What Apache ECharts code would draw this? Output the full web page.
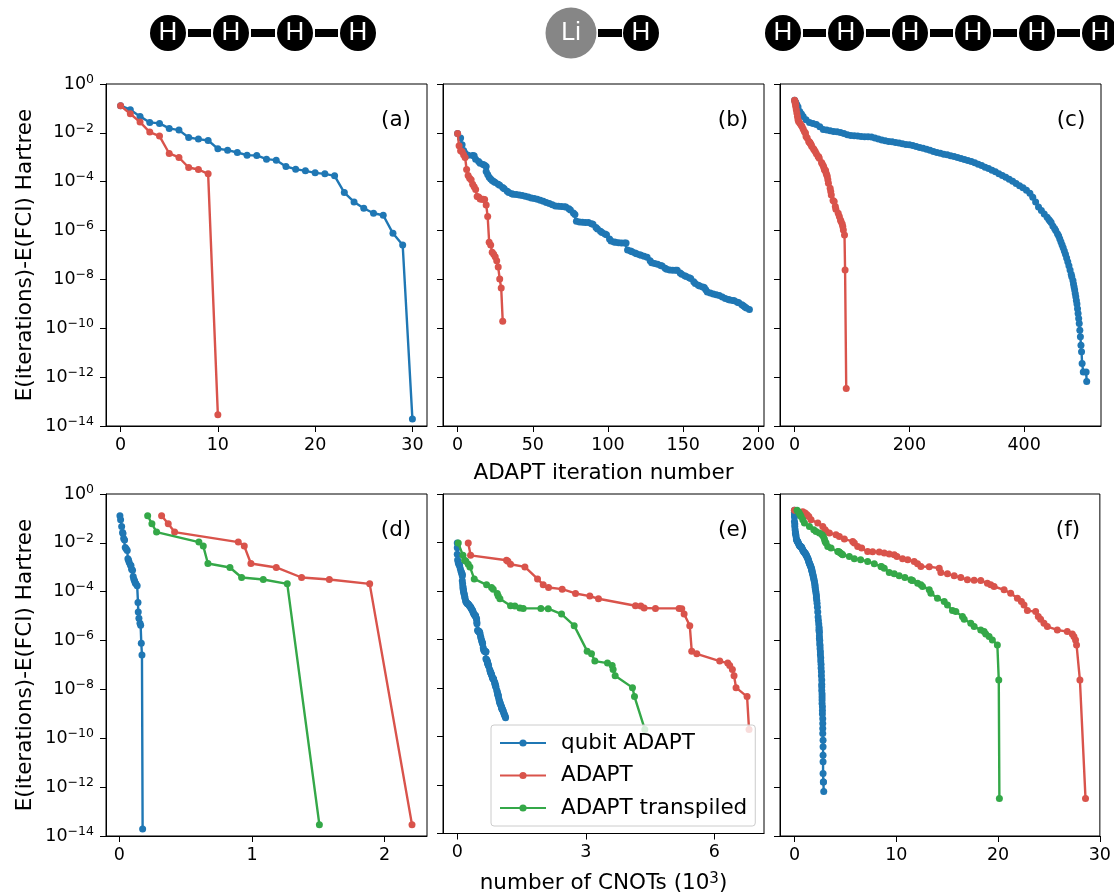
<!DOCTYPE html>
<html><head><meta charset="utf-8">
<style>html,body{margin:0;padding:0;background:#fff}#c{width:1114px;height:895px}</style>
<script src="https://cdn.jsdelivr.net/npm/echarts@6/dist/echarts.min.js"></script>
</head><body><div id="c"></div>
<script>
// ---- Data: energies are log10(E - E_FCI) in Hartree, CNOT counts in thousands ----
// H4
const h4QubitIter=[0,1,2,3,4,5,6,7,8,9,10,11,12,13,14,15,16,17,18,19,20,21,22,23,24,25,26,27,28,29,30];
const h4QubitLog=[-0.889,-1.053,-1.326,-1.572,-1.613,-1.818,-1.887,-2.188,-2.256,-2.311,-2.652,-2.707,-2.803,-2.912,-2.926,-3.076,-3.117,-3.377,-3.486,-3.555,-3.637,-3.678,-3.76,-4.444,-4.826,-5.086,-5.291,-5.373,-6.112,-6.59,-13.714];
const h4QubitCnot=[0.005,0.01,0.018,0.025,0.028,0.033,0.04,0.045,0.053,0.06,0.065,0.07,0.075,0.085,0.088,0.093,0.1,0.105,0.11,0.115,0.12,0.125,0.135,0.141,0.143,0.148,0.156,0.161,0.166,0.171,0.176];
const h4AdaptIter=[0,1,2,3,4,5,6,7,8,9,10];
const h4AdaptLog=[-0.889,-1.217,-1.559,-1.969,-2.133,-2.844,-3.008,-3.418,-3.5,-3.678,-13.536];
const h4AdaptCnot=[0.319,0.369,0.417,0.897,0.942,0.992,1.183,1.374,1.583,1.887,2.206];
const h4TransCnot=[0.214,0.246,0.281,0.6,0.633,0.668,0.834,0.922,1.085,1.266,1.508];
// LiH
const lihQubitIter=[0,2,3,4,5,7,10,11,12,14,15,17,18,19,
 19,20,21,22,23,24,25,27,28,30,
 31,33,34,36,37,39,41,43,45,47,
 49,51,53,55,57,59,61,63,65,67,
 69,71,72,74,75,77,78,79,81,83,
 85,87,89,90,92,93,95,96,98,99,
 101,102,104,105,107,109,111,112,113,115,
 116,118,119,121,122,124,126,128,129,131,
 133,135,136,138,139,141,143,145,146,148,
 149,151,152,154,155,157,158,160,161,163,
 164,165,166,168,170,172,174,176,178,180,
 181,183,184,186,187,189,190,191,192,194];
const lihQubitLog=[-2.024,-2.215,-2.488,-2.721,-2.83,-2.912,-2.926,-2.94,-3.076,-3.172,-3.24,-3.295,-3.322,-3.377,
 -3.582,-3.70,-3.815,-3.89,-3.951,-3.99,-4.033,-4.10,-4.143,-4.24,
 -4.293,-4.39,-4.444,-4.49,-4.512,-4.525,-4.539,-4.565,-4.594,-4.63,
 -4.662,-4.69,-4.717,-4.76,-4.799,-4.85,-4.895,-4.945,-4.99,-5.005,
 -5.018,-5.025,-5.031,-5.11,-5.155,-5.28,-5.346,-5.619,-5.645,-5.66,
 -5.668,-5.674,-5.72,-5.742,-5.87,-5.934,-6.03,-6.084,-6.14,-6.166,
 -6.34,-6.426,-6.465,-6.481,-6.495,-6.508,-6.508,-6.508,-6.795,-6.84,
 -6.864,-6.92,-6.946,-6.99,-7.014,-7.055,-7.096,-7.24,-7.315,-7.35,
 -7.383,-7.43,-7.452,-7.54,-7.588,-7.61,-7.629,-7.629,-7.629,-7.74,
 -7.793,-7.85,-7.875,-7.93,-7.957,-8.09,-8.162,-8.235,-8.272,-8.31,
 -8.327,-8.42,-8.518,-8.56,-8.6,-8.63,-8.655,-8.72,-8.778,-8.825,
 -8.846,-8.865,-8.873,-8.93,-8.955,-9.04,-9.079,-9.13,-9.174,-9.229];
const lihQubitCnot=[0,0,0,0.008,0.023,0.039,0.047,0.054,0.07,0.085,0.101,0.109,0.117,0.117,
 .117,.125,.132,.136,.14,.144,.148,.158,.163,.174,
 .179,.194,.202,.222,.233,.245,.256,.268,.28,.295,
 .311,.318,.326,.342,.358,.365,.373,.389,.404,.412,
 .42,.425,.427,.443,.451,.456,.459,.474,.485,.497,
 .505,.513,.523,.528,.544,.552,.567,.575,.586,.591,
 .606,.614,.629,.637,.649,.661,.666,.668,.668,.687,
 .692,.702,.707,.712,.715,.723,.731,.756,.769,.777,
 .785,.795,.8,.816,.824,.832,.839,.845,.847,.868,
 .878,.883,.886,.896,.901,.922,.933,.943,.948,.953,
 .956,.967,.979,.987,.995,.999,1.003,1.019,1.034,1.039,
 1.041,1.046,1.049,1.065,1.073,1.088,1.096,1.108,1.119,1.127];
const lihAdaptIter=[0,1,2,3,4,5,6,7,8,9,10,11,12,13,14,15,16,17,18,19,20,21,22,23,24,25,26,27,28,29,30];
const lihAdaptLog=[-2.024,-2.529,-2.734,-2.776,-2.899,-3.008,-3.5,-3.746,-3.856,-3.924,-4.102,-4.211,-4.32,-4.608,-4.621,-4.703,-4.717,-4.717,-4.731,-4.95,-5.428,-6.481,-6.59,-6.891,-6.973,-7.069,-7.233,-7.493,-7.985,-8.354,-9.708];
const lihAdaptCnot=[0.256,0.311,1.15,1.181,1.243,1.578,1.873,2.005,2.13,2.448,2.759,3.093,3.295,4.158,4.282,4.36,4.624,5.176,5.238,5.293,5.425,5.471,5.588,6.124,6.311,6.357,6.419,6.458,6.505,6.762,6.808];
const lihTransCnot=[0.023,0.132,0.171,0.202,0.256,0.295,0.396,0.684,0.8,0.839,0.933,0.956,0.995,1.243,1.344,1.461,1.539,1.951,2.122,2.433,2.728,3.031,3.132,3.21,3.505,3.614,3.637,3.684,4.088,4.135,4.376];
// H6
const h6QubitIter=[0,2,4,6,9,12,15,20,26,32,38,44,50,56,62,68,74,80,86,92,98,104,110,116,122,128,134,140,146,152,158,164,170,176,182,188,194,200,206,212,218,224,230,236,242,248,254,260,266,272,278,284,290,296,302,308,314,320,326,332,338,344,350,356,362,368,374,380,386,392,398,404,410,415,420,425,430,435,
 440,443,445,447,450,453,455,458,460,462,464,466,468,470,472,474,476,478,480,482,483,485,486,487,488,489,490,491,492,493,494,
 495,496,497,498,499,500,501,503,508,509];
const h6QubitLog=[-0.67,-0.752,-0.848,-0.943,-1.121,-1.231,-1.326,-1.463,-1.572,-1.613,-1.654,-1.75,-1.859,-1.887,-1.914,-1.941,-1.955,-1.983,-2.024,-2.078,-2.106,-2.119,-2.133,-2.147,-2.16,-2.16,-2.174,-2.215,-2.256,-2.297,-2.324,-2.352,-2.365,-2.393,-2.42,-2.447,-2.475,-2.488,-2.516,-2.557,-2.598,-2.625,-2.666,-2.707,-2.762,-2.803,-2.83,-2.871,-2.899,-2.94,-2.967,-3.008,-3.049,-3.09,-3.131,-3.172,-3.227,-3.281,-3.336,-3.404,-3.459,-3.527,-3.596,-3.678,-3.746,-3.815,-3.897,-3.979,-4.074,-4.17,-4.252,-4.348,-4.471,-4.635,-4.827,-5.031,-5.182,-5.319,
 -5.455,-5.551,-5.606,-5.674,-5.811,-5.92,-6.002,-6.125,-6.207,-6.33,-6.453,-6.576,-6.7,-6.836,-6.973,-7.123,-7.274,-7.438,-7.616,-7.793,-7.889,-8.04,-8.19,-8.313,-8.436,-8.573,-8.709,-8.86,-9.01,-9.202,-9.393,
 -9.598,-9.803,-10.077,-10.35,-10.692,-10.965,-11.444,-11.786,-11.786,-12.182];
const h6QubitCnot=[0,0,0,0,0,0.033,0.033,0.065,0.098,0.098,0.131,0.163,0.196,0.229,0.261,0.294,0.327,0.359,0.392,0.458,0.49,0.523,0.556,0.588,0.621,0.654,0.686,0.719,0.784,0.817,0.85,0.915,0.915,0.98,1.046,1.078,1.111,1.144,1.176,1.209,1.275,1.307,1.34,1.373,1.405,1.438,1.471,1.503,1.536,1.569,1.601,1.634,1.667,1.699,1.699,1.732,1.765,1.797,1.83,1.863,1.895,1.928,1.961,1.993,2.026,2.026,2.059,2.092,2.124,2.157,2.157,2.19,2.222,2.255,2.288,2.32,2.353,2.386,
 2.418,2.418,2.418,2.451,2.451,2.451,2.484,2.484,2.516,2.516,2.549,2.549,2.582,2.582,2.614,2.614,2.647,2.647,2.68,2.68,2.68,2.68,2.712,2.712,2.712,2.712,2.745,2.745,2.745,2.778,2.778,
 2.778,2.778,2.81,2.81,2.81,2.81,2.81,2.843,2.843,2.876];
const h6AdaptIter=[0,1,1,2,2,3,4,5,6,7,9,11,13,15,17,19,20,22,25,25,26,27,28,29,30,33,34,36,38,41,42,43,47,48,50,51,52,53,54,55,56,57,58,59,62,63,64,67,69,71,72,76,78,80,81,83,84,85,87,88,90];
const h6AdaptLog=[-0.67,-0.725,-0.78,-0.848,-0.916,-1.053,-1.19,-1.326,-1.463,-1.531,-1.6,-1.668,-1.736,-1.846,-1.942,-2.01,-2.147,-2.215,-2.352,-2.365,-2.379,-2.42,-2.461,-2.488,-2.557,-2.652,-2.693,-2.762,-2.857,-2.967,-2.98,-3.035,-3.213,-3.268,-3.35,-3.418,-3.514,-3.528,-3.541,-3.65,-3.719,-3.787,-3.924,-4.061,-4.266,-4.403,-4.539,-4.772,-4.813,-5.018,-5.127,-5.291,-5.428,-5.565,-5.633,-5.729,-5.838,-5.975,-6.18,-7.616,-12.469];
const h6AdaptCnot=[0,0.82,1.05,1.24,1.41,1.63,2.29,2.78,3.01,3.1,3.43,4.08,4.41,4.9,5.72,5.88,6.21,6.6,7.19,7.68,8.33,8.82,9.31,9.8,10.07,10.62,11.13,11.76,12.09,12.42,13.24,14.22,14.38,15.03,15.69,16.34,16.99,17.65,18.3,18.95,19.28,19.61,20.59,21.24,21.9,22.29,22.55,22.88,23.69,23.95,24.18,24.51,24.84,25.82,26.8,27.29,27.45,27.61,27.71,28.04,28.59];
const h6TransCnot=[0.26,0.39,0.46,0.56,0.65,0.82,0.98,1.47,1.9,2.12,2.45,2.71,2.84,2.94,3.01,3.1,3.27,3.59,4.25,4.35,4.4,4.51,4.65,4.74,5.39,5.88,6.5,7.19,7.84,8.5,8.56,8.82,9.31,9.8,10.29,10.85,11.44,11.52,11.6,12.1,12.42,12.58,13.24,13.4,14.05,14.71,15.03,15.52,15.85,16.5,16.67,17.32,17.65,18.3,18.63,18.79,19.12,19.44,19.93,20.07,20.13];
// Ticks and labels
const yTicks=[1,1e-2,1e-4,1e-6,1e-8,1e-10,1e-12,1e-14];
const xTicksA=[0,10,20,30],xTicksB=[0,50,100,150,200],xTicksC=[0,200,400];
const xTicksD=[0,1,2],xTicksE=[0,3,6],xTicksF=[0,10,20,30];
const panelLetters=['(a)','(b)','(c)','(d)','(e)','(f)'];
const seriesNames=['qubit ADAPT','ADAPT','ADAPT transpiled'];
const colors={'qubit ADAPT':'#1f77b4','ADAPT':'#d9534b','ADAPT transpiled':'#34a848'};

const pts=(xs,logs)=>xs.map((x,i)=>[x,Math.pow(10,logs[i])]);
const font='"DejaVu Sans"';
const lefts=[106,443,780],tops=[84,494],W=321,H=342;
const panels=[
 {xr:[-1.5,31.5],ticks:xTicksA,s:[[0,h4QubitIter,h4QubitLog],[1,h4AdaptIter,h4AdaptLog]]},
 {xr:[-9.7,203.7],ticks:xTicksB,s:[[0,lihQubitIter,lihQubitLog],[1,lihAdaptIter,lihAdaptLog]],name:'ADAPT iteration number'},
 {xr:[-25.4,533.9],ticks:xTicksC,s:[[0,h6QubitIter,h6QubitLog],[1,h6AdaptIter,h6AdaptLog]]},
 {xr:[-0.1,2.319],ticks:xTicksD,s:[[0,h4QubitCnot,h4QubitLog],[1,h4AdaptCnot,h4AdaptLog],[2,h4TransCnot,h4AdaptLog]]},
 {xr:[-0.333,7.157],ticks:xTicksE,s:[[0,lihQubitCnot,lihQubitLog],[1,lihAdaptCnot,lihAdaptLog],[2,lihTransCnot,lihAdaptLog]],name:'number of CNOTs (10{sup|3})'},
 {xr:[-1.42,30],ticks:xTicksF,s:[[0,h6QubitCnot,h6QubitLog],[1,h6AdaptCnot,h6AdaptLog],[2,h6TransCnot,h6AdaptLog]]}
];
const grid=[],xAxis=[],yAxis=[],series=[];
const tickStyle={show:true,length:6,inside:false,lineStyle:{color:'#000',width:1}};
panels.forEach((p,i)=>{
 const col=i%3,row=Math.floor(i/3);
 grid.push({left:lefts[col],top:tops[row],width:W,height:H,show:true,borderColor:'#000',borderWidth:1,backgroundColor:'#fff'});
 xAxis.push({gridIndex:i,type:'value',min:p.xr[0],max:p.xr[1],splitLine:{show:false},
  axisLine:{show:true,onZero:false,lineStyle:{color:'#000',width:1}},
  axisTick:Object.assign({},tickStyle,{customValues:p.ticks}),
  axisLabel:{customValues:p.ticks,fontFamily:font,fontSize:17.5,color:'#000',margin:10,formatter:v=>String(v)},
  name:p.name||'',nameLocation:'middle',nameGap:row?38:36,
  nameTextStyle:{fontFamily:font,fontSize:21.5,color:'#000',rich:{sup:{fontFamily:font,fontSize:15,color:'#000',verticalAlign:'bottom',padding:[0,0,8,0]}}}});
 yAxis.push({gridIndex:i,type:'log',logBase:10,min:1e-14,max:1,splitLine:{show:false},minorTick:{show:false},
  axisLine:{show:true,onZero:false,lineStyle:{color:'#000',width:1}},
  axisTick:Object.assign({},tickStyle,{customValues:yTicks}),
  axisLabel:{show:col===0,customValues:yTicks,fontFamily:font,fontSize:17.5,color:'#000',margin:12,
   formatter:v=>'{b|10}{s|'+Math.round(Math.log10(v)).toString().replace('-','\u2212')+'}',
   rich:{b:{fontFamily:font,fontSize:17.5,color:'#000'},s:{fontFamily:font,fontSize:12.5,color:'#000',verticalAlign:'bottom',padding:[0,0,9,0]}}},
  name:col===0?'E(iterations)-E(FCI) Hartree':'',nameLocation:'middle',nameGap:70,
  nameTextStyle:{fontFamily:font,fontSize:21.5,color:'#000'}});
 p.s.forEach(([k,xs,logs])=>{
  const n=seriesNames[k];
  series.push({name:n,type:'line',xAxisIndex:i,yAxisIndex:i,data:pts(xs,logs),symbol:'circle',symbolSize:7,showSymbol:true,
   showAllSymbol:true,animation:false,silent:true,z:2+k,itemStyle:{color:colors[n]},lineStyle:{color:colors[n],width:2.4}});
 });
});
// Molecule sketches above the columns
const atom=(x,y,r,fill,label,fs)=>[{type:'circle',shape:{cx:x,cy:y,r:r},style:{fill:fill}},
 {type:'text',x:x,y:y,style:{text:label,fill:'#fff',font:fs+'px "Liberation Sans"',textAlign:'center',textVerticalAlign:'middle'}}];
const bond=(x1,x2,y)=>({type:'rect',shape:{x:x1,y:y-4,width:x2-x1,height:8},style:{fill:'#000'}});
const graphic=[];
const chain=(xs,y)=>{xs.forEach((x,i)=>{graphic.push(...atom(x,y,18,'#000','H',26));if(i)graphic.push(bond(xs[i-1]+20,x-20,y));});};
chain([168,231,295,358],33);
chain([783,846,910,973,1037,1100],33);
graphic.push(...atom(571,33,25.5,'#868686','Li',25));
graphic.push(bond(598,622,33));
graphic.push(...atom(641,33,18,'#000','H',26));
const letterX=[396,733,1071,396,733,1068],letterY=[120,120,120,530,530,530];
panelLetters.forEach((t,i)=>graphic.push({type:'text',x:letterX[i],y:letterY[i],z:10,style:{text:t,fill:'#000',font:'21.5px '+font,textAlign:'center',textVerticalAlign:'middle'}}));

echarts.init(document.getElementById('c'),null,{renderer:'canvas'}).setOption({
 animation:false,backgroundColor:'#fff',grid,xAxis,yAxis,series,graphic,
 legend:{data:seriesNames,selectedMode:false,orient:'vertical',left:491,top:725,padding:[7,8,7,8],itemGap:10.5,itemWidth:46,itemHeight:9,
  backgroundColor:'rgba(255,255,255,0.8)',borderColor:'#ccc',borderWidth:1,borderRadius:3,z:20,
  textStyle:{fontFamily:font,fontSize:21.5,color:'#000',padding:[0,0,0,10]}}
});
</script></body></html>
